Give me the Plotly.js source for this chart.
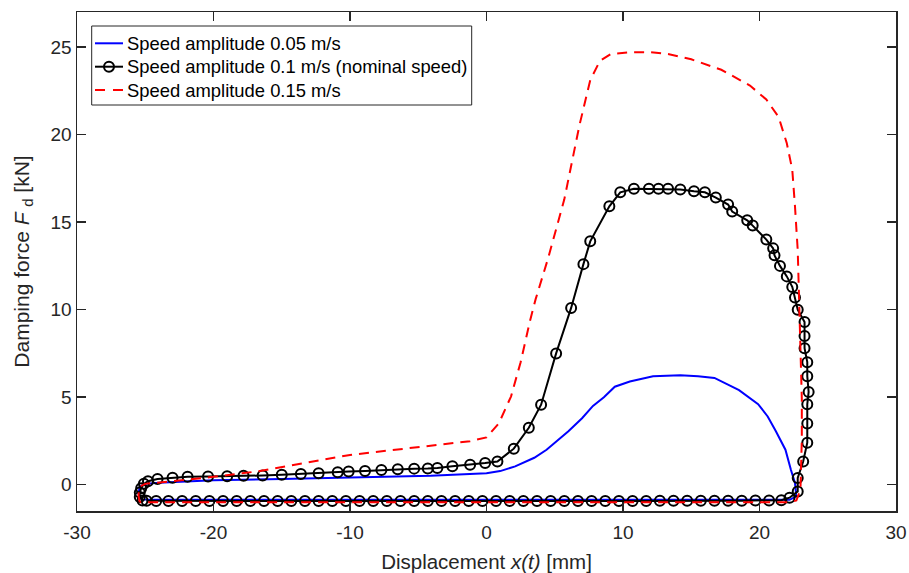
<!DOCTYPE html>
<html>
<head>
<meta charset="utf-8">
<script src="https://cdn.plot.ly/plotly-3.0.1.min.js"></script>
<style>html,body{margin:0;padding:0;background:#fff}#chart{width:909px;height:573px}</style>
</head>
<body>
<div id="chart"></div>
<script>
// Series names
const seriesNames = ['Speed amplitude 0.05 m/s', 'Speed amplitude 0.1 m/s (nominal speed)', 'Speed amplitude 0.15 m/s'];

// Speed amplitude 0.05 m/s (blue, solid)
const blueX = [-25.3, -25.5, -25.4, -25.0, -24.0, -20.0, -15.0, -10.0, -4.1, 0.0, 1.0, 2.1, 3.5, 4.4, 5.2, 6.0, 7.0, 7.8, 8.6, 9.4, 10.5, 12.2, 14.2, 15.5, 16.7, 18.5, 19.9, 20.6, 21.2, 21.9, 22.3, 22.6, 22.7, 22.2, 15.0, 5.0, -5.0, -15.0, -25.3];
const blueY = [-0.85, -0.5, -0.1, 0.05, 0.12, 0.25, 0.33, 0.42, 0.51, 0.65, 0.78, 1.05, 1.54, 2.0, 2.5, 3.05, 3.8, 4.5, 5.0, 5.6, 5.9, 6.2, 6.25, 6.2, 6.1, 5.4, 4.6, 3.9, 3.05, 2.0, 0.86, 0.1, -0.67, -0.86, -0.86, -0.86, -0.86, -0.86, -0.85];

// Speed amplitude 0.1 m/s (black, circles)
const blackX = [-25.2, -25.4, -25.4, -25.3, -25.1, -24.8,
  -24.1, -23.0, -21.9, -20.4, -19.0, -17.8, -16.4, -15.0, -13.6, -12.3, -10.9, -10.1, -8.9, -7.7, -6.5, -5.3, -4.3, -3.6, -2.5, -1.2, -0.1, 0.8,
  2.0, 3.1, 4.0, 5.1, 6.2, 7.1, 7.6, 9.0, 9.8, 10.8, 11.9, 12.6, 13.3, 14.2, 15.2, 16.0, 16.8, 17.7, 18.0, 19.1, 19.5, 20.5, 21.0,
  21.1, 21.5, 22.0, 22.4, 22.6, 22.8, 23.3, 23.3, 23.3, 23.5, 23.5, 23.6, 23.5, 23.5, 23.5, 23.2, 22.8, 22.8, 22.2,
  21.6, 20.7, 19.7, 18.7, 17.7, 16.7, 15.7, 14.7, 13.7, 12.7, 11.7, 10.7, 9.7, 8.7, 7.7, 6.7, 5.7, 4.7, 3.7, 2.7, 1.7, 0.7, -0.3,
  -1.3, -2.3, -3.3, -4.3, -5.3, -6.3, -7.3, -8.3, -9.3, -10.3, -11.3, -12.3, -13.3, -14.3, -15.3, -16.3, -17.3, -18.3, -19.3,
  -20.3, -21.3, -22.3, -23.3, -24.2, -24.9];
const blackY = [-0.9, -0.7, -0.45, -0.2, 0.05, 0.2,
  0.33, 0.4, 0.45, 0.47, 0.48, 0.51, 0.53, 0.57, 0.61, 0.66, 0.71, 0.75, 0.79, 0.84, 0.88, 0.92, 0.93, 0.95, 1.05, 1.14, 1.24, 1.33,
  2.06, 3.25, 4.57, 7.5, 10.1, 12.6, 13.9, 15.9, 16.7, 16.9, 16.9, 16.9, 16.9, 16.86, 16.76, 16.7, 16.4, 16.0, 15.6, 15.1, 14.8, 14.0, 13.5,
  13.1, 12.5, 11.9, 11.3, 10.7, 10.0, 9.3, 8.5, 7.8, 7.0, 6.2, 5.3, 4.6, 3.5, 2.4, 1.33, 0.39, -0.38, -0.74,
  -0.88, -0.9, -0.9, -0.91, -0.91, -0.92, -0.92, -0.92, -0.92, -0.92, -0.93, -0.93, -0.93, -0.93, -0.93, -0.93, -0.93, -0.93, -0.93, -0.93, -0.93, -0.93, -0.93,
  -0.93, -0.93, -0.93, -0.93, -0.93, -0.93, -0.93, -0.93, -0.93, -0.93, -0.93, -0.93, -0.93, -0.93, -0.93, -0.93, -0.93, -0.93, -0.93,
  -0.93, -0.93, -0.93, -0.93, -0.93, -0.92];

// Speed amplitude 0.15 m/s (red, dashed)
const redX = [-25.4, -25.5, -25.4, -25.0, -23.2, -20.0, -16.8, -13.5, -10.0, -4.1, -1.2, 0.0, 0.9, 1.8, 2.5, 3.2, 3.6, 4.5, 5.7, 6.8, 7.6, 8.3, 9.1, 10.5, 12.0, 13.3, 15.0, 17.2, 19.3, 20.5, 21.4, 22.0, 22.4, 22.6, 22.8, 22.9, 23.0, 23.1, 23.1, 23.0, 22.7, 22.2, 15.0, 5.0, -5.0, -15.0, -25.4];
const redY = [-1.0, -0.6, -0.1, 0.05, 0.19, 0.45, 0.76, 1.2, 1.7, 2.23, 2.49, 2.7, 3.5, 5.05, 7.0, 9.4, 10.6, 12.9, 16.3, 20.5, 23.1, 24.2, 24.6, 24.7, 24.7, 24.6, 24.3, 23.7, 22.8, 22.0, 21.0, 19.5, 18.0, 15.9, 13.4, 10.6, 7.7, 4.9, 2.6, -0.3, -0.9, -1.0, -1.0, -1.0, -1.0, -1.0, -1.0];

const xTicks = [-30, -20, -10, 0, 10, 20, 30];
const yTicks = [0, 5, 10, 15, 20, 25];

const FONT = 'Liberation Sans, Arial, Helvetica, sans-serif';
const AX = '#262626';
const colors = ['#0000ff', '#000000', '#ff0000'];

const traces = [
  {x: blueX, y: blueY, type: 'scatter', mode: 'lines', name: seriesNames[0],
   line: {color: colors[0], width: 2}},
  {x: blackX, y: blackY, type: 'scatter', mode: 'lines+markers', name: seriesNames[1],
   line: {color: colors[1], width: 2},
   marker: {symbol: 'circle-open', size: 10, color: colors[1], line: {width: 2, color: colors[1]}}},
  {x: redX, y: redY, type: 'scatter', mode: 'lines', name: seriesNames[2],
   line: {color: colors[2], width: 2, dash: '10px,7px'}}
];

// Manual legend (paper coordinates; plot area 77..896 x 12..511 px)
const L = 77, W = 819, B = 511, H = 499;
const px = v => (v - L) / W;
const py = v => (B - v) / H;
const rowY = [43.3, 66.7, 90.0];
const shapes = [
  {type: 'rect', xref: 'paper', yref: 'paper', x0: px(91.7), x1: px(471.7), y0: py(105), y1: py(26),
   line: {color: AX, width: 1}, fillcolor: '#ffffff', layer: 'above'},
  {type: 'line', xref: 'paper', yref: 'paper', x0: px(95), x1: px(123), y0: py(rowY[0]), y1: py(rowY[0]),
   line: {color: colors[0], width: 2}, layer: 'above'},
  {type: 'line', xref: 'paper', yref: 'paper', x0: px(95), x1: px(123), y0: py(rowY[1]), y1: py(rowY[1]),
   line: {color: colors[1], width: 2}, layer: 'above'},
  {type: 'circle', xref: 'paper', yref: 'paper', xsizemode: 'pixel', ysizemode: 'pixel',
   xanchor: px(109), yanchor: py(rowY[1]), x0: -5, x1: 5, y0: -5, y1: 5,
   line: {color: colors[1], width: 2}, fillcolor: 'rgba(0,0,0,0)', layer: 'above'},
  {type: 'line', xref: 'paper', yref: 'paper', x0: px(95), x1: px(123), y0: py(rowY[2]), y1: py(rowY[2]),
   line: {color: colors[2], width: 2, dash: '10px,8px'}, layer: 'above'}
];
const annotations = seriesNames.map((n, i) => ({
  text: n, xref: 'paper', yref: 'paper', x: px(125), y: py(rowY[i]), xanchor: 'left', yanchor: 'middle',
  showarrow: false, font: {family: FONT, size: 18.4, color: '#000000'}
}));

const layout = {
  width: 909, height: 573,
  margin: {l: 77, r: 13, t: 12, b: 62},
  paper_bgcolor: '#ffffff', plot_bgcolor: '#ffffff',
  font: {family: FONT, size: 19, color: AX},
  showlegend: false,
  shapes: shapes,
  annotations: annotations,
  xaxis: {range: [-30, 30], tickvals: xTicks, ticktext: xTicks.map(String),
    showgrid: false, zeroline: false, showline: true, linecolor: AX, linewidth: 1.5,
    mirror: 'ticks', ticks: 'inside', ticklen: 9, tickwidth: 1.5, tickcolor: AX,
    ticklabelstandoff: 4,
    tickfont: {family: FONT, size: 19, color: AX},
    title: {text: 'Displacement <i>x(t)</i> [mm]', font: {family: FONT, size: 20.5, color: AX}, standoff: 14}},
  yaxis: {range: [-1.5, 27], tickvals: yTicks, ticktext: yTicks.map(String),
    showgrid: false, zeroline: false, showline: true, linecolor: AX, linewidth: 1.5,
    mirror: 'ticks', ticks: 'inside', ticklen: 9, tickwidth: 1.5, tickcolor: AX,
    tickfont: {family: FONT, size: 19, color: AX},
    title: {text: 'Damping force <i>F</i> <sub>d</sub> [kN]', font: {family: FONT, size: 21, color: AX}, standoff: 15}}
};

Plotly.newPlot('chart', traces, layout, {staticPlot: true, displayModeBar: false});
</script>
</body>
</html>
